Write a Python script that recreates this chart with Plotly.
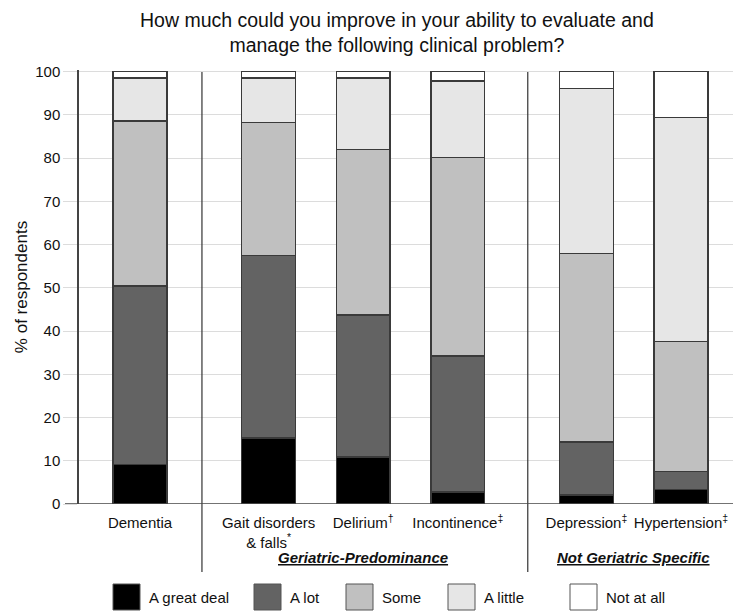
import plotly.graph_objects as go

# ---------------- data ----------------
categories = [
    "Dementia",
    "Gait disorders<br>& falls<sup>*</sup>",
    "Delirium<sup>†</sup>",
    "Incontinence<sup>‡</sup>",
    "Depression<sup>‡</sup>",
    "Hypertension<sup>‡</sup>",
]
group_sizes = [1, 3, 2]
group_labels = [None, "Geriatric-Predominance", "Not Geriatric Specific"]

responses = ["A great deal", "A lot", "Some", "A little", "Not at all"]
great_deal = [9.1, 15.3, 10.9, 2.8, 2.1, 3.4]
a_lot = [41.3, 42.2, 32.8, 31.4, 12.2, 4.1]
some = [38.2, 30.7, 38.3, 46.0, 43.6, 30.1]
a_little = [9.9, 10.4, 16.5, 17.7, 38.2, 51.8]
not_at_all = [1.5, 1.4, 1.5, 2.1, 3.9, 10.6]
series = [great_deal, a_lot, some, a_little, not_at_all]

y_ticks = [0, 10, 20, 30, 40, 50, 60, 70, 80, 90, 100]
title_text = ("How much could you improve in your ability to evaluate and<br>"
              "manage the following clinical problem?")

# ---------------- styling ----------------
colors = ["#000000", "#636363", "#c0c0c0", "#e6e6e6", "#ffffff"]
FONT = "Liberation Sans, Arial, sans-serif"
W, H = 733, 612
ML, MR, MT, MB = 79, 0, 70, 108
GROUP_STEP = 1.36
X_RANGE = [-0.645, 6.27]
separators = [0.655, 4.10]

# positions of bars derived from group structure
positions = []
x = 0.0
for gi, n in enumerate(group_sizes):
    if gi > 0:
        x += GROUP_STEP - 1
    for _ in range(n):
        positions.append(x)
        x += 1

fig = go.Figure()
for name, vals, col in zip(responses, series, colors):
    fig.add_trace(go.Bar(
        x=positions, y=vals, name=name, width=0.57,
        marker=dict(color=col, line=dict(color="#3a3a3a", width=1.5)),
        showlegend=False, hoverinfo="skip",
    ))

plot_w = W - ML - MR
plot_h = H - MT - MB

def px_to_paper_x(px):
    return (px - ML) / plot_w

def px_to_paper_y(py):
    return (H - MB - py) / plot_h

shapes = []
# group separators
for s in separators:
    shapes.append(dict(type="line", xref="x", yref="paper", x0=s, x1=s,
                       y0=px_to_paper_y(572), y1=px_to_paper_y(72),
                       line=dict(color="#333333", width=1.2)))
# baseline stub extending left
shapes.append(dict(type="line", xref="paper", yref="y", x0=px_to_paper_x(65), x1=1,
                   y0=0, y1=0, line=dict(color="#444444", width=1.5)))

annotations = []
# title
annotations.append(dict(x=px_to_paper_x(397), xref="paper", y=px_to_paper_y(33), yref="paper",
                        text=title_text, showarrow=False, xanchor="center", yanchor="middle",
                        align="center", font=dict(size=19.5, color="#111111", family=FONT)))
# group labels
start = 0
for n, lab in zip(group_sizes, group_labels):
    if lab:
        cx = sum(positions[start:start + n]) / n
        annotations.append(dict(x=cx, xref="x", y=px_to_paper_y(557), yref="paper",
                                text=f"<b><i><u>{lab}</u></i></b>", showarrow=False,
                                font=dict(size=15, color="#111111", family=FONT),
                                xanchor="center", yanchor="middle"))
    start += n

# manual legend
legend_x_px = [113, 254, 346, 448, 570]
sw = 27
for name, col, lx in zip(responses, colors, legend_x_px):
    shapes.append(dict(type="rect", xref="paper", yref="paper",
                       x0=px_to_paper_x(lx), x1=px_to_paper_x(lx + sw),
                       y0=px_to_paper_y(610), y1=px_to_paper_y(584),
                       fillcolor=col, line=dict(color="#555555", width=1)))
    annotations.append(dict(x=px_to_paper_x(lx + sw + 7), xref="paper",
                            y=px_to_paper_y(597), yref="paper", text=name,
                            showarrow=False, xanchor="left", yanchor="middle",
                            font=dict(size=15, color="#111111", family=FONT)))

fig.update_layout(
    width=W, height=H,
    margin=dict(l=ML, r=MR, t=MT, b=MB),
    plot_bgcolor="white", paper_bgcolor="white",
    barmode="stack",
    font=dict(family=FONT, color="#111111", size=15),
    xaxis=dict(range=X_RANGE, tickvals=positions, ticktext=categories,
               showgrid=False, zeroline=False, showline=False, ticks="",
               ticklabelstandoff=8, tickfont=dict(size=15)),
    yaxis=dict(range=[0, 100.4], tickvals=y_ticks, showgrid=True,
               gridcolor="#dcdcdc", gridwidth=1, zeroline=False,
               showline=True, linecolor="#444444", linewidth=1.5,
               ticks="outside", ticklen=14, tickcolor="#dcdcdc", tickwidth=1,
               tickfont=dict(size=15),
               title=dict(text="% of respondents", font=dict(size=17), standoff=3)),
    shapes=shapes, annotations=annotations,
)

fig.write_html("out.html", config={"displayModeBar": False},
               post_script="document.body.style.margin='0';document.body.style.overflow='hidden';")
